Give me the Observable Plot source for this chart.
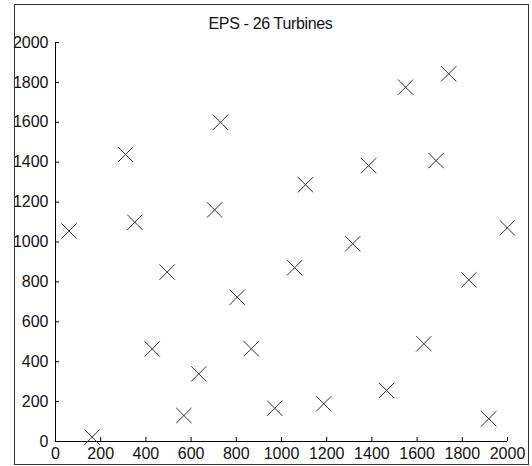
<!DOCTYPE html>
<html>
<head>
<meta charset="utf-8">
<script src="https://cdn.jsdelivr.net/npm/d3@7"></script>
<script src="https://cdn.jsdelivr.net/npm/@observablehq/plot@0.6"></script>
<style>
  html, body { margin: 0; padding: 0; background: #fff; }
  #wrap { position: relative; width: 532px; height: 466px; overflow: hidden; }
  #frame { position: absolute; left: 14px; top: 4px; width: 513px; height: 459px; border: 1px solid #333; box-sizing: content-box; pointer-events: none; }
  #title { position: absolute; left: 0; top: 15px; width: 541px; text-align: center;
           font-family: "Liberation Sans", Arial, sans-serif; font-size: 16px; letter-spacing: -0.35px; color: #111; }
  #chart { position: absolute; left: 0; top: 0; }
</style>
</head>
<body>
<div id="wrap">
  <div id="chart"></div>
  <div id="frame"></div>
  <div id="title">EPS - 26 Turbines</div>
</div>
<script>
// Turbine positions
const turbineX = [60, 162, 310, 351, 494, 428, 568, 634, 704, 730, 804, 866, 970,
                  1058, 1106, 1187, 1315, 1386, 1465, 1549, 1630, 1684, 1740, 1829, 1917, 1999];
const turbineY = [1055, 22, 1439, 1099, 849, 464, 130, 339, 1161, 1600, 723, 465, 167,
                  871, 1287, 189, 991, 1383, 256, 1776, 490, 1408, 1843, 810, 114, 1071];
const xTicks = [0, 200, 400, 600, 800, 1000, 1200, 1400, 1600, 1800, 2000];
const yTicks = [0, 200, 400, 600, 800, 1000, 1200, 1400, 1600, 1800, 2000];

const data = turbineX.map((x, i) => ({x, y: turbineY[i]}));

const W = 532, H = 466;
const mL = 55, mR = 25, mT = 42, mB = 25;
const innerW = W - mL - mR, innerH = H - mT - mB;
const tickLen = 4;
const tickFont = "'Liberation Sans Narrow', 'Arial Narrow', 'Liberation Sans', Arial, sans-serif";

const chart = Plot.plot({
  width: W,
  height: H,
  marginLeft: mL,
  marginRight: mR,
  marginTop: mT,
  marginBottom: mB,
  style: {fontFamily: tickFont, fontSize: "16px", color: "#111", background: "transparent"},
  x: {domain: [0, 2000], ticks: xTicks},
  y: {domain: [0, 2000], ticks: yTicks},
  marks: [
    Plot.axisX(xTicks, {tickSize: 0, tickPadding: 6, label: null, fontSize: 16, tickFormat: d => String(d)}),
    Plot.axisY(yTicks, {tickSize: 0, tickPadding: 7, label: null, fontSize: 16, tickFormat: d => String(d)}),
    Plot.tickX(xTicks, {x: d => d, insetTop: innerH - tickLen, stroke: "#000", strokeWidth: 1}),
    Plot.tickY(yTicks, {y: d => d, insetRight: innerW - tickLen, stroke: "#000", strokeWidth: 1}),
    Plot.ruleY([0], {stroke: "#000", strokeWidth: 1}),
    Plot.ruleX([0], {stroke: "#000", strokeWidth: 1}),
    Plot.dot(data, {x: "x", y: "y", symbol: "times", r: 7, stroke: "#333", strokeWidth: 1})
  ]
});
document.getElementById("chart").appendChild(chart);
</script>
</body>
</html>
